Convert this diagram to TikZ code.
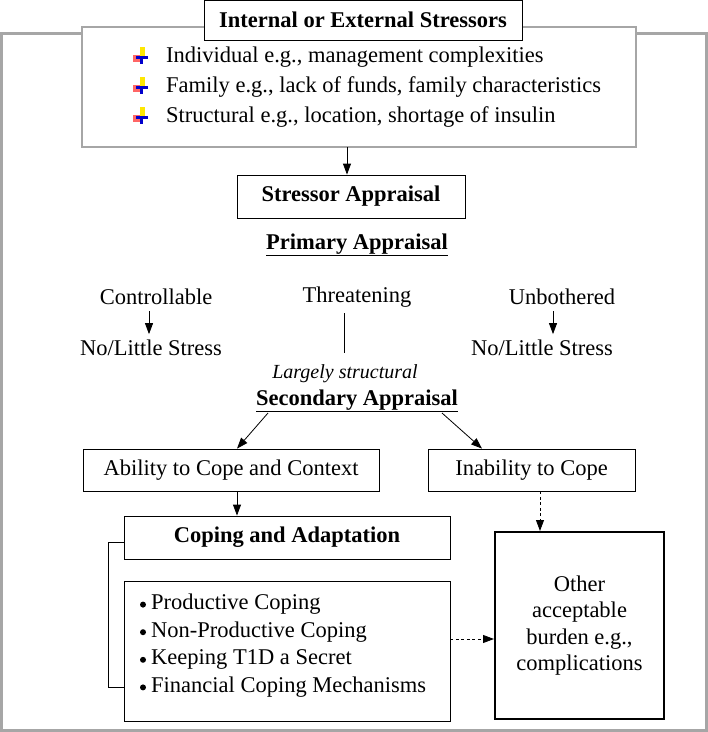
\documentclass[tikz,border=0pt]{standalone}
\usepackage{fontspec}
\setmainfont{Liberation Serif}
\usetikzlibrary{arrows.meta}
\tikzset{
  box/.style={draw, line width=0.8pt, inner sep=0pt},
  txt/.style={font=\fontsize{22.5}{25}\selectfont, inner sep=0pt},
  btxt/.style={font=\fontsize{22.5}{25}\selectfont\bfseries, inner sep=0pt},
  arr/.style={-{Triangle[length=11pt,width=8pt]}, line width=0.8pt},
  darr/.style={arr, dash pattern={on 3pt off 2.5pt}},
  icon/.pic={
    \fill[red!60!white] (-8,-1) rectangle (0,6);
    \fill[yellow!90!orange] (-1,-9) rectangle (4,1);
    \fill[blue!80!black] (-5,0) rectangle (7,3);
    \fill[blue!80!black] (-1,0) rectangle (2,8);
  }
}
\begin{document}
\begin{tikzpicture}[x=1pt,y=-1pt]
\useasboundingbox (0,0) rectangle (708,732);

%outer frame
\draw[gray!70, line width=3pt] (205,33) -- (1.5,33) -- (1.5,730.5) -- (706.5,730.5) -- (706.5,33) -- (520,33);

%stressors
\draw[gray!70, line width=2pt, fill=white] (82,27) rectangle (636,147);
\node[box, fill=white, minimum width=318pt, minimum height=40pt] (stress) at (363,20) {};
\node[btxt] at (stress) {Internal or External Stressors};
\foreach \t [count=\i] in {{Individual e.g., management complexities},
  {Family e.g., lack of funds, family characteristics},
  {Structural e.g., location, shortage of insulin}} {
  \pic at (141,{26+30*\i}) {icon};
  \node[txt, anchor=west] at (166,{27+30*\i}) {\t};
}
\coordinate (sbot) at (347,147);

%appraisal
\node[box, minimum width=228pt, minimum height=43pt] (appr) at (351,196.5) {};
\node[btxt] at (appr) {Stressor Appraisal};
\node[btxt] (prim) at (357,245) {\underline{Primary Appraisal}};

\node[txt] (ctrl) at (156,297) {Controllable};
\node[txt] (thr) at (357,297) {Threatening};
\node[txt] (unb) at (562,297) {Unbothered};
\node[txt] (nls1) at (151,348) {No/Little Stress};
\node[txt] (nls2) at (542,348) {No/Little Stress};
\node[font=\fontsize{20}{22}\selectfont\itshape, inner sep=0pt] (larg) at (345,374) {Largely structural};
\node[btxt] (sec) at (357,401) {\underline{Secondary Appraisal}};

\node[box, minimum width=296pt, minimum height=42pt] (able) at (231,470) {};
\node[txt] at (able) {Ability to Cope and Context};
\node[box, minimum width=207pt, minimum height=42pt] (unable) at (531.5,470) {};
\node[txt] at (unable) {Inability to Cope};

\node[box, minimum width=326pt, minimum height=43pt] (cope) at (287,537.5) {};
\node[btxt] at (cope) {Coping and Adaptation};
\node[box, minimum width=326pt, minimum height=140pt] (list) at (287,651) {};
\foreach \t [count=\i] in {Productive Coping, Non-Productive Coping,
  Keeping T1D a Secret, Financial Coping Mechanisms} {
  \fill (143,{577+27.6*\i}) circle (3pt);
  \node[txt, anchor=west] at (151,{577+27.6*\i}) {\t};
}
\node[draw, line width=2pt, minimum width=169pt, minimum height=187pt, inner sep=0pt,
  align=center, font=\fontsize{22.5}{26.5}\selectfont] (burden) at (579.5,625.5)
  {Other\\acceptable\\burden e.g.,\\complications};

%connectors
\draw[arr] (sbot) -- (appr.north -| sbot);
\draw[arr] (ctrl.south -| 149,0) ++(0,6) -- ++(0,23);
\draw[arr] (unb.south -| 553,0) ++(0,6) -- ++(0,23);
\draw[line width=0.8pt] (thr.south -| 344,0) ++(0,6) -- ++(0,40);
\draw[arr] (268,413) -- (able.north -| 237,0);
\draw[arr] (442,413) -- (unable.north -| 482,0);
\draw[arr] (able.south -| 237,0) -- (cope.north -| 237,0);
\draw[darr] (unable.south -| 540,0) -- (burden.north -| 540,0);
\draw[darr] (list.east |- 0,639) -- (burden.west |- 0,639);
\draw[line width=0.8pt] (cope.west |- 0,542) -- (108,542) -- (108,687) -- (list.west |- 0,687);
\end{tikzpicture}
\end{document}
